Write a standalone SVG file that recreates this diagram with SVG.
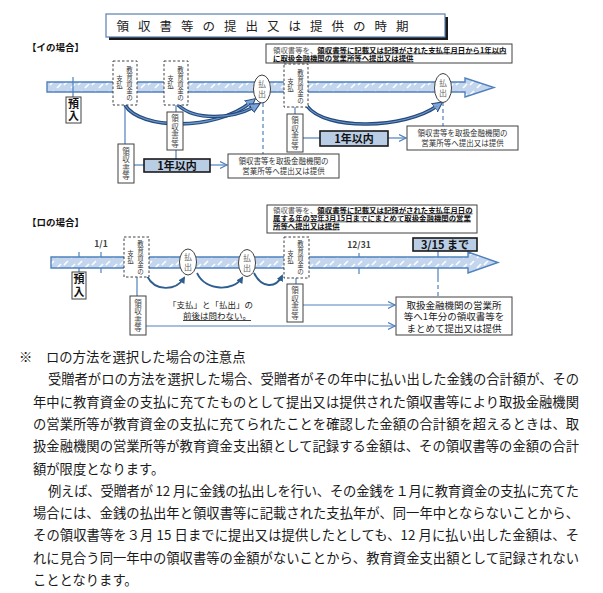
<svg xmlns="http://www.w3.org/2000/svg" width="603" height="593" viewBox="0 0 603 593">
<style>
text{font-family:"Noto Sans CJK JP","Noto Sans",sans-serif}
.band{fill:url(#hatch);stroke:#4f81bd;stroke-width:1.4}
.dbox{fill:#fff;stroke:#404040;stroke-width:1;stroke-dasharray:2.5,2}
.box{fill:#fff;stroke:#404040;stroke-width:1}
.ell{fill:#fff;stroke:#404040;stroke-width:1}
.yr{fill:#b9cde5;stroke:#1a1a1a;stroke-width:1.6}
.ln{fill:none;stroke:#4f81bd;stroke-width:1.2}
.dl{fill:none;stroke:#4f81bd;stroke-width:1.2;stroke-dasharray:4,3}
.thick{fill:none;stroke:#25497a;stroke-width:3.6}
.thin2{fill:none;stroke:#6b97cc;stroke-width:1.2}
.thin{fill:none;stroke:#2f5d8f;stroke-width:1.8}
.vt{writing-mode:vertical-rl;text-anchor:middle}
.v{font-size:6.5px;fill:#333;letter-spacing:0.4px}
.r{font-size:7.5px;fill:#444;letter-spacing:1px}
.o{font-size:8px;fill:#666;letter-spacing:2px}
.p{font-size:11px;font-weight:bold;fill:#111;letter-spacing:1.5px}
.s{font-size:7.5px;fill:#333;text-anchor:middle}
.n{font-size:7.4px;fill:#111}
.nb{font-weight:bold;text-decoration:underline}
.sec{font-size:9.5px;font-weight:bold;fill:#111}
.y{font-size:11px;font-weight:bold;fill:#111;text-anchor:middle}
.dt{font-size:8.5px;font-weight:bold;fill:#404040;text-anchor:middle}
.body{font-size:13.3px;fill:#1a1a1a}
</style>
<defs>
<pattern id="hatch" patternUnits="userSpaceOnUse" width="14" height="10">
<rect width="14" height="10" fill="#c3d6ee"/>
<path d="M1,8 L5,4 M8,5 L12,1" stroke="#ffffff" stroke-width="1.6"/>
</pattern>
<marker id="ar" markerUnits="userSpaceOnUse" markerWidth="9" markerHeight="9" refX="7" refY="4" orient="auto"><path d="M0,0.5 L7,4 L0,7.5" fill="none" stroke="#4f81bd" stroke-width="1.2"/></marker>
<marker id="ba" markerUnits="userSpaceOnUse" markerWidth="14" markerHeight="14" refX="3" refY="6" orient="auto"><path d="M0,1 L10,6 L0,11 z" fill="#7fa6d6" stroke="#24497a" stroke-width="1"/></marker>
<marker id="ca" markerUnits="userSpaceOnUse" markerWidth="9" markerHeight="9" refX="5" refY="3.5" orient="auto"><path d="M0,0 L7,3.5 L0,7 z" fill="#2f5d8f"/></marker>
</defs>
<rect width="603" height="593" fill="#fff"/>

<g id="title">
<rect x="109" y="17" width="339" height="23" fill="#1a1a1a"/>
<rect x="106" y="14" width="339" height="23" fill="#fff" stroke="#5b7db0" stroke-width="1.2"/>
<text x="267" y="30.5" font-size="12.5" fill="#222" text-anchor="middle" letter-spacing="9">領収書等の提出又は提供の時期</text>
</g>

<g id="label-i"><text class="sec" x="27" y="51">【イの場合】</text></g>

<g id="timeline-i">
<path class="band" d="M47,82 H465 V78 L494,87.5 L465,97 V92 H47 Z"/>
</g>

<g id="connectors">
<path class="ln" d="M73,77 V97"/>
<path class="ln" d="M125,105 V144"/>
<path class="ln" d="M176,105 V112 M176,150 V159"/>
<path class="ln" d="M295,107 V114"/>
<path class="ln" d="M134,165 H144"/>
<path class="ln" d="M210,165 H227" marker-end="url(#ar)"/>
<path class="ln" d="M303,138 H320"/>
<path class="ln" d="M388,138 H406" marker-end="url(#ar)"/>
<path class="dl" d="M263,103 V154"/>
<path class="dl" d="M443,102 V126"/>
<path class="thick" d="M125,105 C140,130 215,131 250,103" marker-end="url(#ba)"/>
<path class="thin2" d="M125,105 C140,130 215,131 250,103"/>
<path class="thick" d="M178,105 C195,121 232,119 254,107" marker-end="url(#ba)"/>
<path class="thin2" d="M178,105 C195,121 232,119 254,107"/>
<path class="thick" d="M307,106 C325,131 405,129 437,106" marker-end="url(#ba)"/>
<path class="thin2" d="M307,106 C325,131 405,129 437,106"/>
<path class="ln" d="M79,252 V272"/>
<path class="ln" d="M101,252 V273"/>
<path class="ln" d="M359,253 V274"/>
<path class="ln" d="M438,251 V278"/>
<path class="dl" d="M438,278 V297"/>
<path class="ln" d="M137,277 V296"/>
<path class="ln" d="M296,278 V284"/>
<path class="ln" d="M303,305 H395" marker-end="url(#ar)"/>
<path class="ln" d="M146,326 H395" marker-end="url(#ar)"/>
<path class="thin" d="M147,276 C155,292 176,291 184,278" marker-end="url(#ca)"/>
<path class="thin" d="M197,273 C206,292 234,291 242,278" marker-end="url(#ca)"/>
<path class="thin" d="M254,273 C262,289 276,288 282,276" marker-end="url(#ca)"/>
</g>

<g id="deposit-i">
<rect class="box" x="66" y="97" width="15" height="26"/>
<text class="vt p" x="73.5" y="110.5">預入</text>
</g>

<g id="pay1-i">
<rect class="dbox" x="113" y="61" width="24" height="44"/>
<text class="vt v" x="129.5" y="83.5">教育資金の</text>
<text class="vt v" x="119.5" y="82.5">支払</text>
</g>
<g id="pay2-i">
<rect class="dbox" x="164" y="61" width="24" height="44"/>
<text class="vt v" x="180.5" y="83.5">教育資金の</text>
<text class="vt v" x="170.5" y="82.5">支払</text>
</g>
<g id="pay3-i">
<rect class="dbox" x="284" y="64" width="24" height="43"/>
<text class="vt v" x="300.5" y="86.5">教育資金の</text>
<text class="vt v" x="290.5" y="85.5">支払</text>
</g>

<g id="out1-i">
<ellipse class="ell" cx="262" cy="89" rx="8.5" ry="14"/>
<text class="vt o" x="262" y="90">払出</text>
</g>
<g id="out2-i">
<ellipse class="ell" cx="443" cy="88" rx="8.5" ry="14.5"/>
<text class="vt o" x="443" y="89">払出</text>
</g>

<g id="rcpt1-i">
<rect class="box" x="118" y="144" width="16" height="39"/>
<text class="vt r" x="126" y="164">領収書等</text>
</g>
<g id="rcpt2-i">
<rect class="box" x="167" y="112" width="16" height="38"/>
<text class="vt r" x="175" y="131.5">領収書等</text>
</g>
<g id="rcpt3-i">
<rect class="box" x="287" y="114" width="16" height="38"/>
<text class="vt r" x="295" y="133.5">領収書等</text>
</g>

<g id="year1-i">
<rect class="yr" x="144" y="159" width="66" height="13"/>
<text class="y" x="177" y="169.8">1年以内</text>
</g>
<g id="year2-i">
<rect class="yr" x="320" y="131" width="68" height="15"/>
<text class="y" x="354" y="142.5">1年以内</text>
</g>

<g id="submit1-i">
<rect class="box" x="228" y="154" width="111" height="24"/>
<text class="s"><tspan x="283.5" y="164">領収書等を取扱金融機関の</tspan><tspan x="283.5" y="174">営業所等へ提出又は提供</tspan></text>
</g>
<g id="submit2-i">
<rect class="box" x="407" y="126" width="111" height="24"/>
<text class="s"><tspan x="462.5" y="136">領収書等を取扱金融機関の</tspan><tspan x="462.5" y="146">営業所等へ提出又は提供</tspan></text>
</g>

<g id="note-i">
<rect class="box" x="266" y="44" width="246" height="19" stroke-width="1.2"/>
<text class="n"><tspan x="273" y="52.5" fill="#555">領収書等を、</tspan><tspan class="nb">領収書等に記載又は記録がされた支払年月日から1年以内</tspan><tspan class="nb" x="273" y="60.5">に取扱金融機関の営業所等へ提出又は提供</tspan></text>
</g>

<g id="label-ro"><text class="sec" x="27" y="226">【ロの場合】</text></g>

<g id="timeline-ro">
<path class="band" d="M51,257 H468 V252 L498,262.5 L468,273 V268 H51 Z"/>
</g>

<g id="date-11"><text class="dt" x="101" y="247">1/1</text></g>
<g id="date-1231"><text class="dt" x="359" y="248">12/31</text></g>

<g id="deadline-ro">
<rect class="yr" x="413" y="238" width="64" height="13"/>
<text class="y" x="445" y="248.5">3/15 まで</text>
</g>

<g id="deposit-ro">
<rect class="box" x="72" y="272" width="14" height="27"/>
<text class="vt p" x="79" y="286">預入</text>
</g>

<g id="pay1-ro">
<rect class="dbox" x="124" y="237" width="25" height="40"/>
<text class="vt v" x="140.5" y="258">教育資金の</text>
<text class="vt v" x="130.5" y="257">支払</text>
</g>
<g id="pay2-ro">
<rect class="dbox" x="284" y="237" width="25" height="41"/>
<text class="vt v" x="300.5" y="258">教育資金の</text>
<text class="vt v" x="290.5" y="257">支払</text>
</g>

<g id="out1-ro">
<ellipse class="ell" cx="188" cy="262" rx="8.5" ry="13"/>
<text class="vt o" x="188" y="263">払出</text>
</g>
<g id="out2-ro">
<ellipse class="ell" cx="247" cy="263" rx="8.5" ry="13.5"/>
<text class="vt o" x="247" y="264">払出</text>
</g>

<g id="rcpt1-ro">
<rect class="box" x="130" y="296" width="16" height="39"/>
<text class="vt r" x="138" y="316">領収書等</text>
</g>
<g id="rcpt2-ro">
<rect class="box" x="287" y="284" width="16" height="38"/>
<text class="vt r" x="295" y="303.5">領収書等</text>
</g>

<g id="remark-ro">
<text font-size="8.5" fill="#222"><tspan x="168" y="308">「支払」と「払出」の</tspan><tspan x="183" y="319" text-decoration="underline">前後は問わない。</tspan></text>
</g>

<g id="submit-ro">
<rect class="box" x="396" y="297" width="116" height="38"/>
<text font-size="9.5" fill="#222" text-anchor="middle"><tspan x="454" y="308.5">取扱金融機関の営業所</tspan><tspan x="454" y="320">等へ1年分の領収書等を</tspan><tspan x="454" y="331.5">まとめて提出又は提供</tspan></text>
</g>

<g id="note-ro">
<rect class="box" x="267" y="205" width="210" height="28" stroke-width="1.2"/>
<text class="n"><tspan x="273" y="212.5" fill="#555">領収書等を、</tspan><tspan class="nb">領収書等に記載又は記録がされた支払年月日の</tspan><tspan class="nb" x="273" y="220.5">属する年の翌年3月15日までにまとめて取扱金融機関の営業</tspan><tspan class="nb" x="273" y="228.5">所等へ提出又は提供</tspan></text>
</g>

<g id="notes-text">
<text class="body" x="19" y="362">※</text>
<text class="body" x="46" y="362">ロの方法を選択した場合の注意点</text>
<text class="body" x="48" y="384.3" textLength="531" lengthAdjust="spacing">受贈者がロの方法を選択した場合、受贈者がその年中に払い出した金銭の合計額が、その</text>
<text class="body" x="33" y="406.6" textLength="546" lengthAdjust="spacing">年中に教育資金の支払に充てたものとして提出又は提供された領収書等により取扱金融機関</text>
<text class="body" x="33" y="428.9" textLength="546" lengthAdjust="spacing">の営業所等が教育資金の支払に充てられたことを確認した金額の合計額を超えるときは、取</text>
<text class="body" x="33" y="451.2" textLength="546" lengthAdjust="spacing">扱金融機関の営業所等が教育資金支出額として記録する金額は、その領収書等の金額の合計</text>
<text class="body" x="33" y="473.5">額が限度となります。</text>
<text class="body" x="48" y="495.8" textLength="531" lengthAdjust="spacing">例えば、受贈者が 12 月に金銭の払出しを行い、その金銭を１月に教育資金の支払に充てた</text>
<text class="body" x="33" y="518.1" textLength="546" lengthAdjust="spacing">場合には、金銭の払出年と領収書等に記載された支払年が、同一年中とならないことから、</text>
<text class="body" x="33" y="540.4" textLength="546" lengthAdjust="spacing">その領収書等を３月 15 日までに提出又は提供したとしても、12 月に払い出した金額は、そ</text>
<text class="body" x="33" y="562.7" textLength="546" lengthAdjust="spacing">れに見合う同一年中の領収書等の金額がないことから、教育資金支出額として記録されない</text>
<text class="body" x="33" y="585">こととなります。</text>
</g>
</svg>
